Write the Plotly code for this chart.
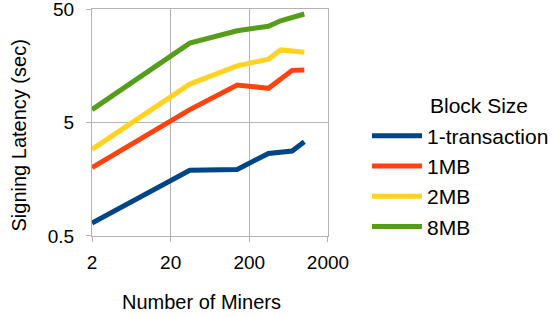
import plotly.graph_objects as go

series_names = ["1-transaction", "1MB", "2MB", "8MB"]
colors = ["#004586", "#ff420e", "#ffd320", "#579d1c"]

x_tx = [2, 35, 140, 350, 700, 1000]
y_tx = [0.65, 1.90, 1.93, 2.67, 2.80, 3.38]

x_1mb = [2, 35, 140, 350, 700, 1000]
y_1mb = [2.0, 6.5, 10.7, 10.0, 14.4, 14.5]

x_2mb = [2, 35, 140, 350, 500, 700, 1000]
y_2mb = [2.9, 10.9, 15.8, 18.1, 21.8, 21.1, 20.8]

x_8mb = [2, 35, 140, 350, 500, 1000]
y_8mb = [6.5, 25.0, 32.2, 35.2, 39.4, 45.2]

x_ticks = [2, 20, 200, 2000]
y_ticks = [0.5, 5, 50]

x_title = "Number of Miners"
y_title = "Signing Latency (sec)"
legend_title = "Block Size"

xs = [x_tx, x_1mb, x_2mb, x_8mb]
ys = [y_tx, y_1mb, y_2mb, y_8mb]

FONT = "Liberation Sans, Arial, sans-serif"

fig = go.Figure()
for name, c, x, y in zip(series_names, colors, xs, ys):
    fig.add_trace(go.Scatter(x=x, y=y, mode="lines", name=name,
                             line=dict(color=c, width=5), legendgroup=name))

grid = "#b3b3b3"
fig.update_layout(
    width=552, height=317,
    margin=dict(l=92, r=224, t=9, b=81, autoexpand=False),
    paper_bgcolor="white", plot_bgcolor="white",
    font=dict(family=FONT, size=19, color="#000000"),
    showlegend=True,
    legend=dict(
        xref="container", yref="container",
        x=367 / 552, y=1 - 115.5 / 317, xanchor="left", yanchor="top",
        font=dict(size=21), tracegroupgap=0, itemwidth=50,
        bgcolor="rgba(0,0,0,0)",
    ),
    annotations=[
        dict(text=y_title, xref="paper", yref="paper",
             x=-0.3114, y=0.4405, xanchor="center", yanchor="middle",
             textangle=-90, showarrow=False, font=dict(size=20)),
        dict(text=x_title, xref="paper", yref="paper",
             x=0.4619, y=-0.2894, xanchor="center", yanchor="middle",
             showarrow=False, font=dict(size=20)),
        dict(text=legend_title, xref="paper", yref="paper",
             x=1.4237, y=0.5727, xanchor="left", yanchor="middle",
             showarrow=False, font=dict(size=21)),
    ],
)
fig.update_xaxes(
    type="log", range=[0.3008, 3.3012],
    tickvals=x_ticks, ticktext=[str(v) for v in x_ticks],
    showgrid=True, gridcolor=grid, gridwidth=1,
    showline=True, linecolor=grid, mirror=True,
    ticks="outside", ticklen=5, tickcolor=grid,
    ticklabelstandoff=4, ticklabeloverflow="allow",
    zeroline=False,
)
fig.update_yaxes(
    type="log", range=[-0.3013, 1.6992],
    tickvals=y_ticks, ticktext=["0.5", "5", "50"],
    showgrid=True, gridcolor=grid, gridwidth=1,
    showline=True, linecolor=grid, mirror=True,
    ticks="outside", ticklen=5, tickcolor=grid,
    ticklabelstandoff=8, ticklabeloverflow="allow",
    zeroline=False,
)

fig.write_html("out.html", config={"displayModeBar": False},
               post_script="document.body.style.margin='0px';")
